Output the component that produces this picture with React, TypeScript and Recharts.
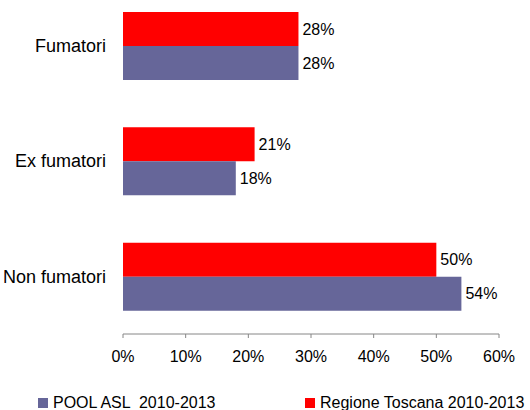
import { Bar, BarChart, LabelList, XAxis, YAxis } from "recharts";

const categories = ["Fumatori", "Ex fumatori", "Non fumatori"];
const poolAsl = [28, 18, 54];
const regioneToscana = [28, 21, 50];
const xTicks = [0, 10, 20, 30, 40, 50, 60];

const POOL_COLOR = "#666699";
const REGIONE_COLOR = "#ff0000";
const FONT = '"Liberation Sans", Arial, sans-serif';

const data = categories.map((name, i) => ({
  name,
  pool: poolAsl[i],
  regione: regioneToscana[i],
}));

const pct = (v: unknown) => `${v}%`;

function LegendItem({ color, label, left }: { color: string; label: string; left: number }) {
  return (
    <div style={{ position: "absolute", left, top: 394, display: "flex", alignItems: "center" }}>
      <span style={{ width: 10, height: 10, background: color, display: "inline-block", marginRight: 5 }} />
      <span style={{ fontSize: 16, color: "#000", whiteSpace: "pre", lineHeight: "18px" }}>{label}</span>
    </div>
  );
}

export default function App() {
  return (
    <div
      style={{
        position: "fixed",
        left: 0,
        top: 0,
        width: 530,
        height: 410,
        overflow: "hidden",
        background: "#fff",
        fontFamily: FONT,
      }}
    >
      <BarChart
        width={530}
        height={410}
        data={data}
        layout="vertical"
        barSize={34}
        barGap={0}
        margin={{ top: -12, right: 31, bottom: 36, left: 0 }}
      >
        <XAxis
          type="number"
          domain={[0, 60]}
          ticks={xTicks}
          tickFormatter={pct}
          interval={0}
          height={40}
          stroke="#868686"
          tickSize={4}
          tickMargin={13}
          tick={{ fill: "#000", fontSize: 16, fontFamily: FONT }}
        />
        <YAxis
          type="category"
          dataKey="name"
          width={123}
          axisLine={false}
          tickLine={false}
          tickSize={0}
          tickMargin={17}
          tick={{ fill: "#000", fontSize: 18, fontFamily: FONT }}
        />
        <Bar dataKey="regione" fill={REGIONE_COLOR} isAnimationActive={false}>
          <LabelList dataKey="regione" position="right" offset={4} formatter={pct} fill="#000" fontSize={16} fontFamily={FONT} />
        </Bar>
        <Bar dataKey="pool" fill={POOL_COLOR} isAnimationActive={false}>
          <LabelList dataKey="pool" position="right" offset={4} formatter={pct} fill="#000" fontSize={16} fontFamily={FONT} />
        </Bar>
      </BarChart>
      <LegendItem color={POOL_COLOR} label="POOL ASL  2010-2013" left={38} />
      <LegendItem color={REGIONE_COLOR} label="Regione Toscana 2010-2013" left={305} />
    </div>
  );
}
